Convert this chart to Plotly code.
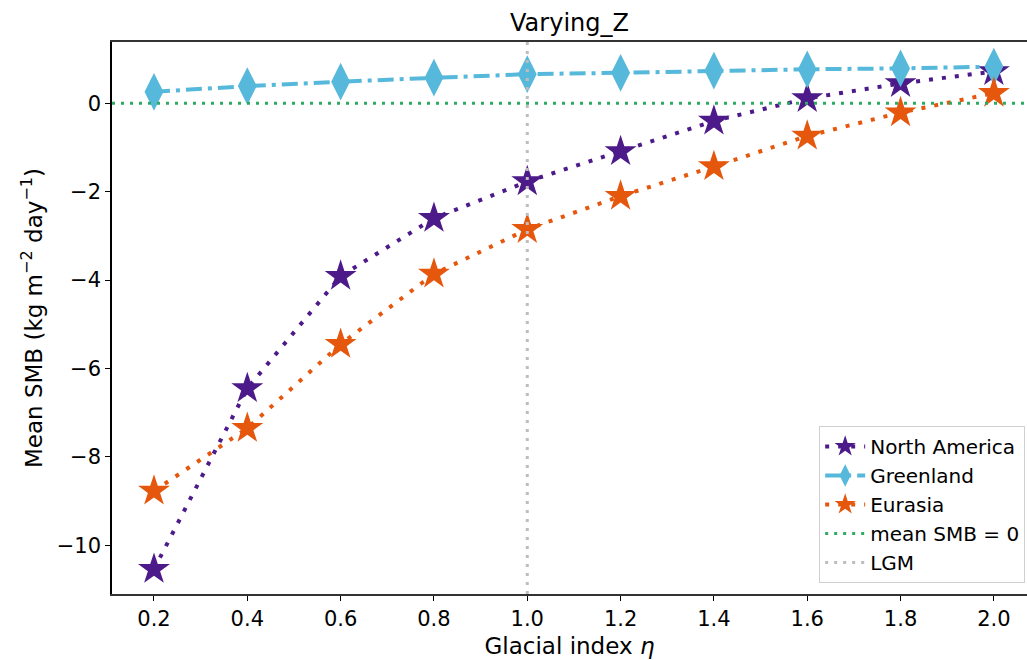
import plotly.graph_objects as go

# Glacial index values
eta = [0.2, 0.4, 0.6, 0.8, 1.0, 1.2, 1.4, 1.6, 1.8, 2.0]

# Mean surface mass balance per ice sheet (kg m^-2 day^-1)
north_america = [-10.54, -6.45, -3.91, -2.60, -1.77, -1.09, -0.40, 0.11, 0.45, 0.72]
greenland = [0.26, 0.39, 0.49, 0.58, 0.66, 0.69, 0.74, 0.77, 0.79, 0.83]
eurasia = [-8.77, -7.35, -5.45, -3.86, -2.85, -2.10, -1.43, -0.74, -0.21, 0.23]

lgm_eta = 1.0
y_ticks = [0, -2, -4, -6, -8, -10]

x_range = [0.11, 2.071]
y_range = [-11.10, 1.387]

purple = "#4d1a89"
sky = "#56b8da"
orange = "#e6570e"
green = "#2eab63"
grey = "#bdbdbd"

font = "DejaVu Sans, Arial, sans-serif"
dotted = "4px,9px"
fine_dotted = "3px,6px"
dash_dot = "16px,6px,4px,6px"

fig = go.Figure()

fig.add_trace(go.Scatter(
    x=eta, y=north_america, name="North America", mode="lines+markers",
    line=dict(color=purple, width=4, dash=dotted),
    marker=dict(symbol="star", size=24, color=purple),
))
fig.add_trace(go.Scatter(
    x=eta, y=greenland, name="Greenland", mode="lines+markers",
    line=dict(color=sky, width=4, dash=dash_dot),
    marker=dict(symbol="diamond-tall", size=27, color=sky),
))
fig.add_trace(go.Scatter(
    x=eta, y=eurasia, name="Eurasia", mode="lines+markers",
    line=dict(color=orange, width=4, dash=dotted),
    marker=dict(symbol="star", size=24, color=orange),
))
fig.add_trace(go.Scatter(
    x=x_range, y=[0, 0], name="mean SMB = 0", mode="lines",
    line=dict(color=green, width=3, dash=fine_dotted),
))
fig.add_trace(go.Scatter(
    x=[lgm_eta, lgm_eta], y=y_range, name="LGM", mode="lines",
    line=dict(color=grey, width=3, dash=fine_dotted),
))

fig.update_layout(
    width=1027, height=660,
    margin=dict(l=112, r=0, t=42, b=66),
    plot_bgcolor="white", paper_bgcolor="white",
    font=dict(family=font, size=20, color="black"),
    title=dict(text="Varying_Z", x=0.5, xref="paper", y=0.966, yanchor="middle",
               font=dict(size=24, family=font)),
    showlegend=True,
    legend=dict(
        x=0.998, y=0.02, xanchor="right", yanchor="bottom",
        bordercolor="#d0d0d0", borderwidth=1, bgcolor="rgba(255,255,255,0.85)",
        font=dict(size=20, family=font), itemwidth=40, tracegroupgap=0,
    ),
)

fig.update_xaxes(
    range=x_range, tickvals=eta, ticktext=[f"{v:.1f}" for v in eta],
    showgrid=False, zeroline=False,
    showline=True, linecolor="#333333", linewidth=1.5, mirror=True,
    ticks="outside", ticklen=5, tickwidth=1.2, tickcolor="black",
    tickfont=dict(size=21, family=font),
    title=dict(text="Glacial index <i>η</i>", font=dict(size=23, family=font), standoff=8),
)
fig.update_yaxes(
    range=y_range, tickvals=y_ticks,
    showgrid=False, zeroline=False,
    showline=True, linecolor="black", linewidth=1.5,
    ticks="outside", ticklen=5, tickwidth=1.2, tickcolor="black",
    tickfont=dict(size=21, family=font),
    title=dict(text="Mean SMB (kg m<sup>−2</sup> day<sup>−1</sup>)",
               font=dict(size=23, family=font), standoff=8),
)

fig.write_html("out.html")
